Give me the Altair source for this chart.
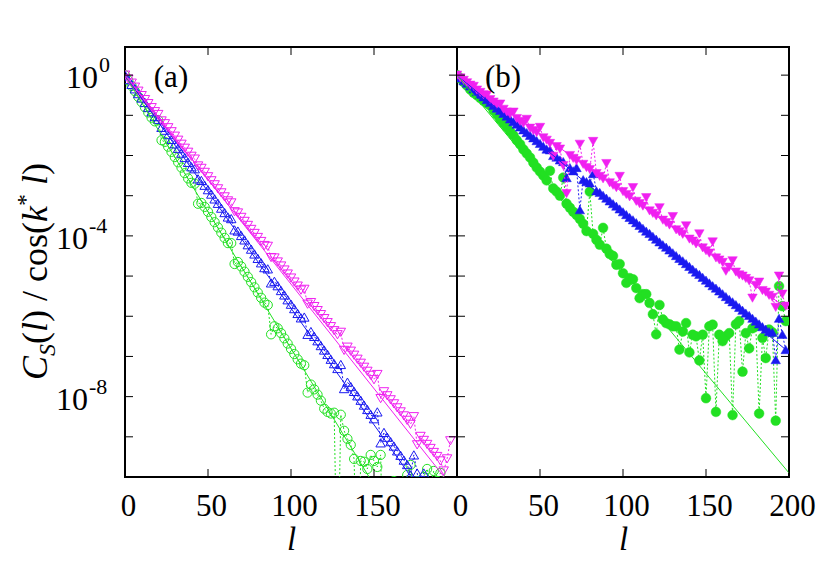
import altair as alt
import numpy as np
import pandas as pd

FONT = "Liberation Serif"
GREEN = "#22e022"
BLUE = "#1a1af0"
MAGENTA = "#f020f0"

# ---------------- data (log10 of C_S(l)/cos(k* l)) ----------------
L_A_MAG = list(range(0, 198, 2))
A_MAG = [0.00, -0.10, -0.20, -0.30, -0.40, -0.51, -0.61, -0.71, -0.81, -0.91,
         -0.98, -1.14, -1.21, -1.31, -1.41, -1.52, -1.62, -1.72, -1.82, -1.92,
         -2.02, -2.09, -2.26, -2.32, -2.42, -2.53, -2.63, -2.73, -2.83, -2.93,
         -3.03, -3.13, -3.18, -3.40, -3.43, -3.54, -3.64, -3.74, -3.84, -3.94,
         -4.04, -4.14, -4.24, -4.26, -4.54, -4.55, -4.65, -4.75, -4.85, -4.95,
         -5.05, -5.15, -5.25, -5.35, -5.33, -5.70, -5.66, -5.76, -5.86, -5.96,
         -6.06, -6.16, -6.26, -6.36, -6.46, -6.40, -6.85, -6.77, -6.87, -6.97,
         -7.07, -7.17, -7.27, -7.37, -7.47, -7.58, -7.45, -8.05, -7.88, -7.98,
         -8.08, -8.18, -8.28, -8.38, -8.48, -8.59, -8.69, -8.50, -9.20, -8.99,
         -9.09, -9.19, -9.29, -9.39, -9.49, -9.60, -9.85, -9.55, -9.10]

L_A_BLUE = list(range(0, 184, 2))
A_BLUE = [0.00, -0.11, -0.23, -0.34, -0.46, -0.57, -0.68, -0.80, -0.91, -1.03,
          -1.10, -1.30, -1.37, -1.48, -1.60, -1.71, -1.82, -1.94, -2.05, -2.17,
          -2.28, -2.33, -2.58, -2.62, -2.74, -2.85, -2.96, -3.08, -3.19, -3.31,
          -3.42, -3.53, -3.57, -3.85, -3.88, -3.99, -4.10, -4.22, -4.33, -4.45,
          -4.56, -4.67, -4.79, -4.82, -5.17, -5.13, -5.24, -5.36, -5.47, -5.59,
          -5.70, -5.81, -5.93, -6.04, -6.02, -6.45, -6.38, -6.50, -6.61, -6.73,
          -6.84, -6.95, -7.07, -7.18, -7.30, -7.20, -7.80, -7.64, -7.75, -7.87,
          -7.98, -8.09, -8.21, -8.32, -8.44, -8.55, -8.38, -9.15, -8.89, -9.01,
          -9.12, -9.23, -9.35, -9.46, -9.58, -9.69, -9.95, -9.45, -9.90, -10.30,
          -9.90, -10.50]

L_A_GREEN = list(range(0, 192, 2))
A_GREEN = [0.00, -0.13, -0.27, -0.40, -0.54, -0.67, -0.80, -0.93, -1.06, -1.15,
           -1.12, -1.62, -1.66, -1.78, -1.91, -2.04, -2.17, -2.30, -2.44, -2.57,
           -2.68, -2.70, -3.20, -3.18, -3.28, -3.40, -3.53, -3.66, -3.79, -3.92,
           -4.05, -4.18, -4.18, -4.70, -4.65, -4.76, -4.89, -5.02, -5.15, -5.28,
           -5.41, -5.54, -5.66, -5.72, -6.45, -6.25, -6.30, -6.42, -6.55, -6.68,
           -6.81, -6.94, -7.07, -7.18, -7.22, -7.90, -7.70, -7.82, -7.95, -8.10,
           -8.30, -8.38, -8.42, -8.40, -13.0, -8.45, -8.85, -9.05, -9.20, -9.55,
           -13.0, -9.60, -9.62, -9.80, -9.45, -9.60, -9.75, -9.45, -13.0, -10.40,
           -10.30, -10.10, -10.60, -10.20, -10.50, -9.95, -9.70, -10.30, -10.10, -10.60,
           -10.00, -9.80, -10.20, -9.85, -10.10, -9.90]

L_B = list(range(0, 200, 2))
B_MAG = [0.00, -0.07, -0.13, -0.19, -0.25, -0.28, -0.37, -0.43, -0.49, -0.50,
         -0.61, -0.67, -0.73, -0.72, -0.85, -0.92, -0.97, -0.92, -1.08, -1.15,
         -1.20, -1.10, -1.32, -1.38, -1.43, -1.30, -1.56, -1.62, -1.70, -2.02,
         -1.78, -1.84, -2.25, -2.95, -2.00, -2.07, -2.13, -1.72, -2.22, -2.30,
         -2.35, -1.65, -2.45, -2.52, -2.58, -2.20, -2.68, -2.74, -2.80, -2.52,
         -2.90, -2.97, -3.03, -2.80, -3.14, -3.20, -3.26, -3.05, -3.38, -3.44,
         -3.50, -3.30, -3.61, -3.67, -3.73, -3.52, -3.85, -3.90, -3.96, -3.75,
         -4.08, -4.13, -4.20, -3.95, -4.30, -4.37, -4.43, -4.15, -4.55, -4.60,
         -4.66, -4.88, -4.78, -4.62, -4.90, -4.97, -5.00, -5.06, -5.12, -5.55,
         -5.23, -5.15, -5.36, -5.40, -5.48, -5.53, -5.78, -5.00, -5.45, -5.75]

B_BLUE = [0.00, -0.07, -0.14, -0.20, -0.27, -0.34, -0.41, -0.48, -0.54, -0.61,
          -0.68, -0.75, -0.82, -0.88, -0.95, -1.02, -1.09, -1.16, -1.22, -1.29,
          -1.36, -1.43, -1.50, -1.56, -1.63, -1.70, -1.77, -1.84, -1.86, -2.00,
          -2.04, -2.11, -2.15, -2.55, -2.30, -2.38, -2.30, -3.35, -2.60, -2.65,
          -2.68, -2.45, -2.88, -2.92, -2.99, -3.06, -3.13, -3.20, -3.26, -3.33,
          -3.40, -3.47, -3.54, -3.60, -3.67, -3.74, -3.81, -3.88, -3.94, -4.01,
          -4.08, -4.15, -4.22, -4.28, -4.35, -4.42, -4.49, -4.56, -4.62, -4.69,
          -4.76, -4.83, -4.90, -4.96, -5.03, -5.10, -5.17, -5.24, -5.30, -5.37,
          -5.44, -5.51, -5.58, -5.64, -5.71, -5.78, -5.85, -5.92, -5.98, -6.05,
          -6.12, -6.19, -6.26, -6.32, -6.38, -6.40, -7.08, -6.05, -6.45, -6.83]

B_GREEN = [0.00, -0.08, -0.17, -0.26, -0.36, -0.44, -0.50, -0.57, -0.64, -0.70,
           -0.76, -0.88, -0.98, -1.10, -1.20, -1.30, -1.40, -1.50, -1.62, -1.72,
           -1.85, -1.95, -2.05, -2.18, -2.30, -2.40, -2.50, -2.62, -2.38, -2.82,
           -2.90, -3.00, -2.55, -3.20, -3.30, -3.40, -3.48, -3.58, -3.70, -3.88,
           -2.90, -3.95, -4.10, -4.22, -3.80, -4.32, -4.45, -4.50, -4.72, -4.70,
           -4.93, -5.17, -5.05, -5.08, -5.30, -5.55, -5.45, -5.45, -5.67, -5.95,
           -6.45, -5.72, -6.08, -6.17, -6.20, -6.25, -6.25, -6.83, -6.38, -6.17,
           -6.90, -6.46, -6.50, -7.10, -6.46, -8.04, -6.25, -6.21, -8.38, -6.46,
           -6.62, -6.50, -6.42, -8.46, -6.20, -6.12, -7.38, -6.42, -6.80, -6.30,
           -6.25, -8.42, -6.54, -7.04, -6.33, -6.40, -8.60, -5.25, -5.75, -6.12]

# straight exponential fits: log10 value at l = 0 and l = 200
FIT_L = [0, 200]
A_FIT_MAG = [0.0, -10.4]
A_FIT_BLUE = [0.0, -11.6]
A_FIT_GREEN = [0.0, -13.6]
B_FIT_MAG = [0.0, -5.84]
B_FIT_BLUE = [0.0, -6.9]
B_FIT_GREEN = [0.0, -9.9]

X_TICKS_A = [0, 50, 100, 150]
X_TICKS_B = [0, 50, 100, 150, 200]
Y_MINOR = [1e0, 1e-1, 1e-2, 1e-3, 1e-4, 1e-5, 1e-6, 1e-7, 1e-8, 1e-9]
Y_LABELS = [(1e0, "0", -27), (1e-4, "-4", -37), (1e-8, "-8", -37)]

# ---------------- layout constants ----------------
W, H = 332, 430
YDOM = [1e-10, 10 ** 0.7]
TICK = 8


def xenc(values):
    return alt.X(
        "l:Q",
        scale=alt.Scale(domain=[0, 200], nice=False, zero=False),
        axis=alt.Axis(
            values=values, format="d", labelFont=FONT, labelFontSize=31,
            labelColor="black", labelPadding=14, labelOffset=3, labelFlush=False,
            labelOverlap=False, ticks=False, domain=False, grid=False,
            title="l", titleFont=FONT, titleFontStyle="italic", titleFontSize=33,
            titleFontWeight="normal", titleColor="black", titlePadding=2,
        ),
    )


YENC = alt.Y("v:Q", scale=alt.Scale(type="log", domain=YDOM, nice=False), axis=None)
DUMMY = pd.DataFrame({"d": [0]})


def series(l, logv, color, shape, filled, size):
    df = pd.DataFrame({"l": l, "v": np.power(10.0, np.array(logv, dtype=float))})
    X = CUR_X
    line = alt.Chart(df).mark_line(color=color, strokeDash=[2, 2], strokeWidth=1, clip=True).encode(x=X, y=YENC)
    if filled:
        pts = alt.Chart(df).mark_point(shape=shape, filled=True, fill=color, stroke=color, strokeWidth=0.5,
                                       size=size, opacity=1, clip=True).encode(x=X, y=YENC)
    else:
        pts = alt.Chart(df).mark_point(shape=shape, filled=False, stroke=color, strokeWidth=1,
                                       size=size, opacity=1, clip=True).encode(x=X, y=YENC)
    return [line, pts]


def fit(logv, color):
    df = pd.DataFrame({"l": FIT_L, "v": np.power(10.0, np.array(logv, dtype=float))})
    return alt.Chart(df).mark_line(color=color, strokeWidth=1, clip=True).encode(x=CUR_X, y=YENC)


def ticks(xvals):
    dfx = pd.DataFrame({"l": xvals})
    dfy = pd.DataFrame({"v": Y_MINOR})
    r = dict(color="black", strokeWidth=1)
    return [
        alt.Chart(dfx).mark_rule(**r).encode(x=CUR_X, y=alt.value(H), y2=alt.value(H - TICK)),
        alt.Chart(dfx).mark_rule(**r).encode(x=CUR_X, y=alt.value(0), y2=alt.value(TICK)),
        alt.Chart(dfy).mark_rule(**r).encode(y=YENC, x=alt.value(0), x2=alt.value(TICK)),
        alt.Chart(dfy).mark_rule(**r).encode(y=YENC, x=alt.value(W), x2=alt.value(W - TICK)),
    ]


def label(text, x, y, size=31):
    return alt.Chart(DUMMY).mark_text(font=FONT, fontSize=size, color="black", align="center",
                                      baseline="middle").encode(x=alt.value(x), y=alt.value(y),
                                                                text=alt.value(text))


# ---------------- panel (a) ----------------
CUR_X = xenc(X_TICKS_A)
layers_a = []
layers_a += series(L_A_GREEN, A_GREEN, GREEN, "circle", False, 85)
layers_a += series(L_A_BLUE, A_BLUE, BLUE, "triangle-up", False, 90)
layers_a += series(L_A_MAG, A_MAG, MAGENTA, "triangle-down", False, 90)
layers_a += [fit(A_FIT_GREEN, GREEN), fit(A_FIT_BLUE, BLUE), fit(A_FIT_MAG, MAGENTA)]
layers_a += ticks(X_TICKS_A)
layers_a.append(label("(a)", 46, 31))

# y tick labels 10^n
for val, ex, bx in Y_LABELS:
    dfl = pd.DataFrame({"v": [val]})
    layers_a.append(alt.Chart(dfl).mark_text(font=FONT, fontSize=32, color="black", align="right",
                                             baseline="middle", dy=3).encode(
        x=alt.value(bx), y=YENC, text=alt.value("10")))
    layers_a.append(alt.Chart(dfl).mark_text(font=FONT, fontSize=22, color="black", align="left",
                                             baseline="middle", dy=-10, dx=1).encode(
        x=alt.value(bx), y=YENC, text=alt.value(ex)))

# y axis title  C_S(l) / cos(k* l), rotated, built piecewise
TW = {"C": 667, "S": 500, "(": 333, ")": 333, "l": 278, "k": 444, " ": 250,
      "/": 278, "c": 444, "o": 500, "s": 389, "*": 500}
F, FS = 36, 24
pieces = [("C", "italic", F, 0), ("S", "italic", FS, 8), ("(", "normal", F, 0),
          ("l", "italic", F, 0), (") / cos(", "normal", F, 0), ("k", "italic", F, 0),
          ("*", "normal", FS, -14), (" ", None, F, 0), ("l", "italic", F, 0), (")", "normal", F, 0)]
ycur = 333
BX = -78
for txt, style, size, shift in pieces:
    if style is not None:
        layers_a.append(alt.Chart(DUMMY).mark_text(font=FONT, fontSize=size, fontStyle=style, color="black",
                                                   angle=270, align="left", baseline="alphabetic").encode(
            x=alt.value(BX + shift), y=alt.value(ycur), text=alt.value(txt)))
    ycur -= sum(TW[c] for c in txt) * size / 1000.0

panel_a = alt.layer(*layers_a).properties(width=W, height=H)

# ---------------- panel (b) ----------------
CUR_X = xenc(X_TICKS_B)
layers_b = []
layers_b += series(L_B, B_GREEN, GREEN, "circle", True, 95)
layers_b += series(L_B, B_BLUE, BLUE, "triangle-up", True, 90)
layers_b += series(L_B, B_MAG, MAGENTA, "triangle-down", True, 90)
layers_b += [fit(B_FIT_GREEN, GREEN), fit(B_FIT_BLUE, BLUE), fit(B_FIT_MAG, MAGENTA)]
layers_b += ticks(X_TICKS_B)
layers_b.append(label("(b)", 46, 31))
panel_b = alt.layer(*layers_b).properties(width=W, height=H)

chart = (
    alt.hconcat(panel_a, panel_b, spacing=0, bounds="flush")
    .properties(padding={"left": 5, "top": 37, "right": 5, "bottom": 5}, background="white")
    .configure_view(stroke="black", strokeWidth=2)
)

chart.save("out.html", embed_options={"renderer": "svg", "actions": False})
